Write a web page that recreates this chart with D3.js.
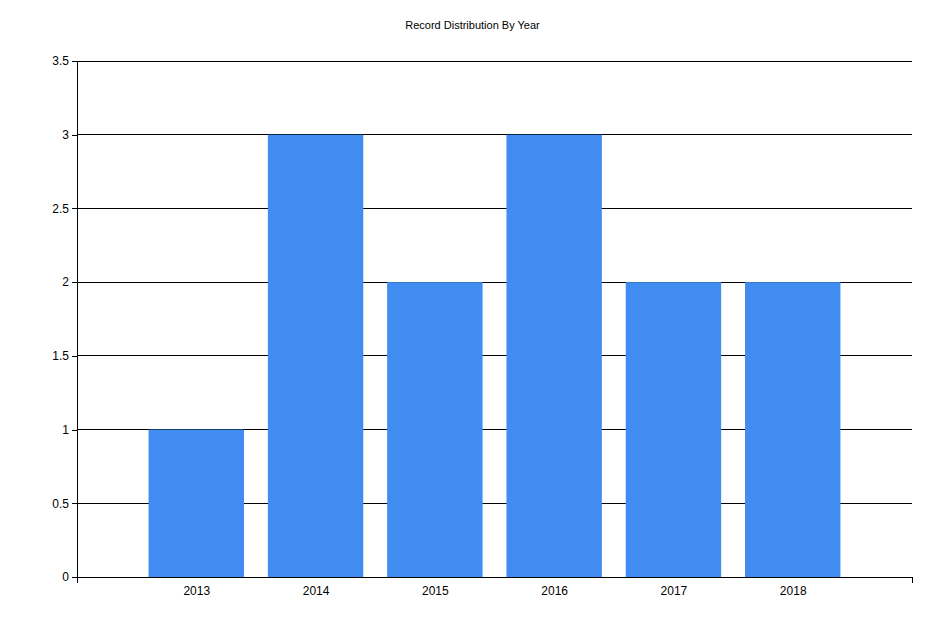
<!DOCTYPE html>
<html>
<head>
<meta charset="utf-8">
<script src="https://cdn.jsdelivr.net/npm/d3@7"></script>
<style>
  body { margin: 0; background: #fff; }
  text { font-family: "Liberation Sans", Arial, sans-serif; }
</style>
</head>
<body>
<svg id="chart" width="945" height="630"></svg>
<script>
const years = ['2013', '2014', '2015', '2016', '2017', '2018'];
const counts = [1, 3, 2, 3, 2, 2];
const yTicks = [0, 0.5, 1, 1.5, 2, 2.5, 3, 3.5];

const margin = {top: 61, right: 33, bottom: 53, left: 77};
const width = 945, height = 630;

let svg = d3.select('#chart');

let x = d3.scaleLinear()
    .domain([0, years.length + 1])
    .range([margin.left, width - margin.right]);

let y = d3.scaleLinear()
    .domain([0, 3.5])
    .range([height - margin.bottom, margin.top]);

let barWidth = (x(1) - x(0)) * 0.8;

svg.append('text')
    .attr('x', width / 2)
    .attr('y', 29)
    .attr('text-anchor', 'middle')
    .attr('font-size', 11)
    .text('Record Distribution By Year');

// gridlines
svg.append('g')
    .selectAll('line')
    .data(yTicks.filter(d => d > 0))
    .join('line')
        .attr('x1', margin.left)
        .attr('x2', width - margin.right)
        .attr('y1', d => y(d))
        .attr('y2', d => y(d))
        .attr('stroke', '#000')
        .attr('shape-rendering', 'crispEdges');

svg.append('g')
    .selectAll('rect')
    .data(counts)
    .join('rect')
        .attr('fill', '#418CF0')
        .attr('x', (d, i) => x(i + 1) - barWidth / 2)
        .attr('y', d => y(d))
        .attr('width', barWidth)
        .attr('height', d => y(0) - y(d));

let yAxis = svg.append('g')
    .attr('transform', `translate(${margin.left},0)`)
    .call(d3.axisLeft(y).tickValues(yTicks).tickFormat(d => String(d)).tickSize(5).tickSizeOuter(0));

let xAxis = svg.append('g')
    .attr('transform', `translate(0,${height - margin.bottom})`)
    .call(d3.axisBottom(x)
        .tickValues(d3.range(1, years.length + 1))
        .tickFormat(d => years[d - 1])
        .tickSize(0).tickSizeOuter(6).tickPadding(9));

// end ticks on x axis
xAxis.append('g')
    .selectAll('line')
    .data([0, years.length + 1])
    .join('line')
        .attr('x1', d => x(d)).attr('x2', d => x(d))
        .attr('y1', 0).attr('y2', 6)
        .attr('stroke', '#000');

[xAxis, yAxis].forEach(a => {
    a.selectAll('text').attr('font-size', 12).attr('fill', '#000')
        .style('font-family', '"Liberation Sans", Arial, sans-serif');
    a.selectAll('path, line').attr('stroke', '#000').attr('shape-rendering', 'crispEdges');
});
</script>
</body>
</html>
